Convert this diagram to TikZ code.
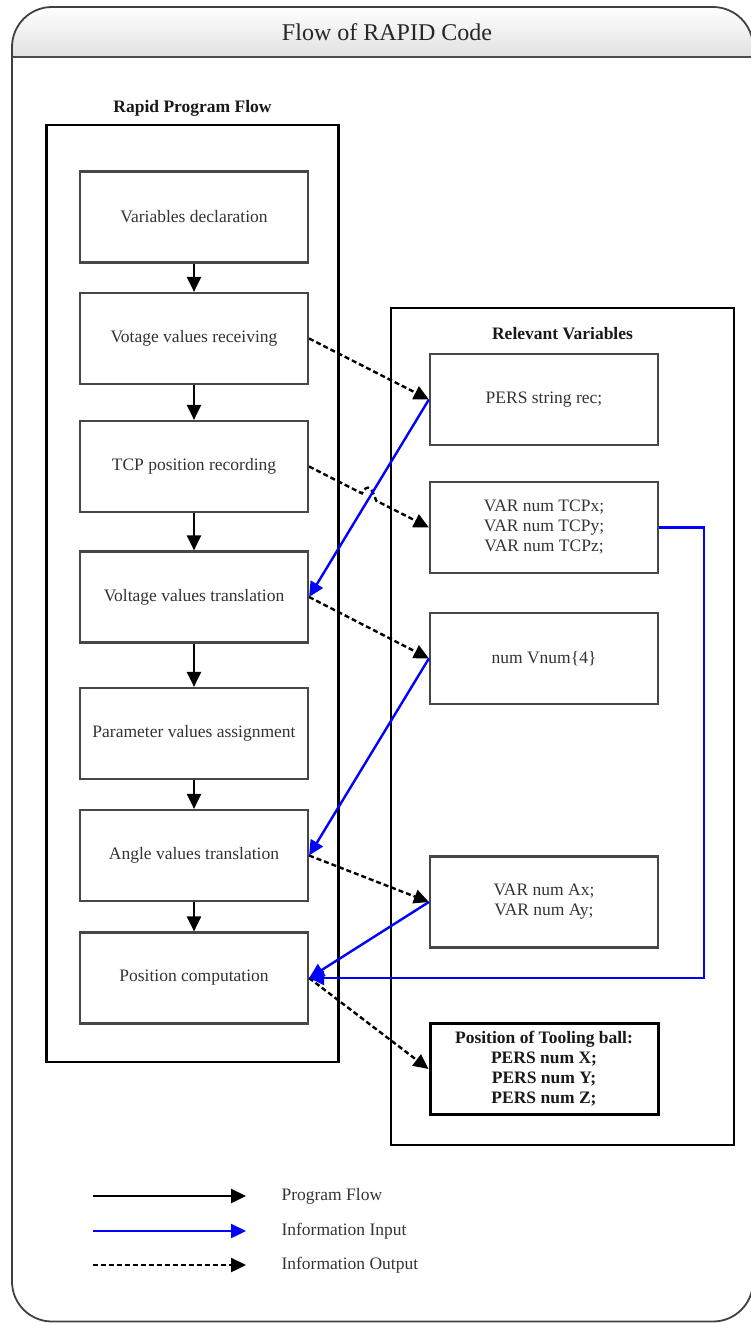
\documentclass[tikz,border=0pt]{standalone}
\usepackage{fontspec}
\setmainfont{Liberation Serif}
\usetikzlibrary{arrows.meta,calc}
\begin{document}
\begin{tikzpicture}[x=1pt,y=-1pt,
  txt/.style={font=\fontsize{17.5}{20}\selectfont, text=black!80, align=center},
  boldtxt/.style={font=\fontsize{17.5}{20}\selectfont\bfseries, text=black!90, align=center},
  stepbox/.style={txt, draw=black!72, line width=2.2pt, minimum width=228pt, minimum height=91pt, inner sep=0pt},
  varbox/.style={stepbox},
  resultbox/.style={boldtxt, draw=black, line width=3pt, minimum width=228pt, minimum height=91pt, inner sep=0pt},
  group/.style={draw=black, line width=2.6pt, inner sep=0pt},
  tip/.style={-{Triangle[length=15pt,width=14pt]}},
  flow/.style={tip, draw=black, line width=2.4pt},
  infoin/.style={tip, draw=blue, line width=2.4pt},
  infoout/.style={tip, draw=black, line width=2.4pt, dash pattern=on 5pt off 3pt},
]
\useasboundingbox (0,0) rectangle (751,1323);

% outer frame with shaded title band
\begin{scope}
  \clip[rounded corners=40pt] (12,7) rectangle (753,1321.5);
  \shade[top color=white, bottom color=black!12] (12,7) rectangle (753,57);
\end{scope}
\draw[black!70, line width=2pt] (12,57) -- (753,57);
\draw[black!75, line width=1.8pt, rounded corners=40pt] (12,7) rectangle (753,1321.5);
\node[font=\fontsize{24}{28}\selectfont, text=black!85] (title) at (387,32) {Flow of RAPID Code};

% program flow group
\node[group, minimum width=292pt, minimum height=937pt] (flowgrp) at (192.5,593.5) {};
\node[boldtxt] (flowlbl) at (192.5,108) {Rapid Program Flow};

\node[stepbox] (s1) at (194,217)   {Variables declaration};
\node[stepbox] (s2) at (194,338.5) {Votage values receiving};
\node[stepbox] (s3) at (194,466.5) {TCP position recording};
\node[stepbox] (s4) at (194,597)   {Voltage values translation};
\node[stepbox] (s5) at (194,733.5) {Parameter values assignment};
\node[stepbox] (s6) at (194,855.5) {Angle values translation};
\node[stepbox] (s7) at (194,978)   {Position computation};

\draw[flow] (s1) -- (s2);
\draw[flow] (s2) -- (s3);
\draw[flow] (s3) -- (s4);
\draw[flow] (s4) -- (s5);
\draw[flow] (s5) -- (s6);
\draw[flow] (s6) -- (s7);

% variables group
\node[group, minimum width=343pt, minimum height=837pt] (vargrp) at (562.5,726.5) {};
\node[boldtxt] (varlbl) at (562.5,334) {Relevant Variables};

\node[varbox] (v1) at (544,399.5) {PERS string rec;};
\node[varbox] (v2) at (544,527.5) {VAR num TCPx;\\VAR num TCPy;\\VAR num TCPz;};
\node[varbox] (v3) at (544,658.5) {num Vnum\{4\}};
\node[varbox] (v4) at (544,902)   {VAR num Ax;\\VAR num Ay;};
\node[resultbox] (v5) at (544,1069) {Position of Tooling ball:\\PERS num X;\\PERS num Y;\\PERS num Z;};

% information output
\draw[infoout] (s2.east) -- (v1.west);
\coordinate (hopa) at ($(s3.east)!0.44!(v2.west)$);
\coordinate (hopb) at ($(s3.east)!0.56!(v2.west)$);
\draw[infoout] (s3.east) -- (hopa) .. controls ($(hopa)+(6,-11)$) and ($(hopb)+(-4,-12)$) .. (hopb) -- (v2.west);
\draw[infoout] (s4.east) -- (v3.west);
\draw[infoout] (s6.east) -- (v4.west);
\draw[infoout] (s7.east) -- (v5.west);

% information input
\draw[infoin] (v1.west) -- (s4.east);
\draw[infoin] (v3.west) -- (s6.east);
\draw[infoin] (v4.west) -- (s7.east);
\coordinate (loop) at (704,0);
\draw[infoin] (v2.east) -- (v2.east -| loop) |- (s7.east);

% legend
\coordinate (la1) at (93,1196);  \coordinate (lb1) at (246,1196);
\coordinate (la2) at (93,1231);  \coordinate (lb2) at (246,1231);
\coordinate (la3) at (93,1265);  \coordinate (lb3) at (246,1265);
\draw[flow] (la1) -- (lb1);
\draw[infoin] (la2) -- (lb2);
\draw[infoout] (la3) -- (lb3);
\node[txt, anchor=west] (lt1) at (278,1196) {Program Flow};
\node[txt, anchor=west] (lt2) at (278,1231) {Information Input};
\node[txt, anchor=west] (lt3) at (278,1265) {Information Output};
\end{tikzpicture}
\end{document}
